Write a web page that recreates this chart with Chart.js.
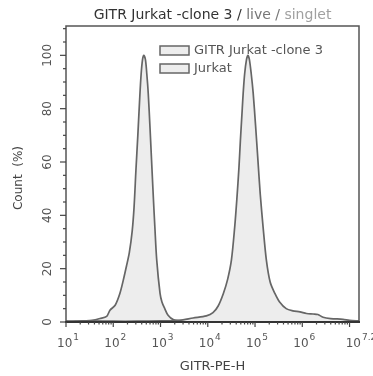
<!DOCTYPE html>
<html>
<head>
<meta charset="utf-8">
<script src="https://cdn.jsdelivr.net/npm/chart.js@4"></script>
<style>
    html, body { margin: 0; padding: 0; background: #fff; }
    #wrap { width: 373px; height: 376px; }
</style>
</head>
<body>
<div id="wrap"><canvas id="chartHist"></canvas></div>
<script>
// x values are log10 of GITR-PE-H, y values are Count (%)
const decadeTicks = [1, 2, 3, 4, 5, 6, 7.2];
const decadeLabels = ['1', '2', '3', '4', '5', '6', '7.2'];
const countTicks = [0, 20, 40, 60, 80, 100];
const seriesNames = ['GITR Jurkat -clone 3', 'Jurkat'];

const cloneLog = [1.0, 1.5, 2.0, 2.5, 3.0, 3.4, 3.69, 3.97, 4.11, 4.22, 4.33, 4.42, 4.50, 4.57, 4.615,
    4.66, 4.69, 4.73, 4.75, 4.78, 4.82, 4.85, 4.88, 4.92, 4.96, 5.01, 5.06, 5.11, 5.17, 5.24,
    5.32, 5.42, 5.52, 5.66, 5.80, 5.95, 6.09, 6.23, 6.33, 6.44, 6.60, 6.86, 7.0, 7.2];
const cloneCount = [0.3, 0.4, 0.3, 0.3, 0.4, 0.6, 1.5, 2.3, 3.5, 6, 10.7, 16, 23.2, 35.7, 46,
    58, 68, 80, 86, 93, 98.5, 100, 98.5, 93, 86, 74, 61, 48, 35.7, 23.2,
    15, 10.7, 7.5, 5, 4.2, 3.8, 3.2, 3.0, 2.8, 1.8, 1.3, 1.0, 0.6, 0.4];

const jurkatLog = [1.0, 1.2, 1.37, 1.55, 1.72, 1.86, 1.93, 2.04, 2.14, 2.21, 2.28, 2.34, 2.40, 2.44, 2.48,
    2.52, 2.56, 2.59, 2.62, 2.645, 2.68, 2.71, 2.74, 2.78, 2.81, 2.85, 2.88, 2.92, 2.99, 3.03,
    3.09, 3.16, 3.27, 3.48, 3.8, 4.2, 5.0, 6.0, 7.2];
const jurkatCount = [0.2, 0.2, 0.4, 0.6, 1.3, 2.1, 4.4, 6.3, 10.7, 15.5, 21, 26, 34, 43, 57,
    70, 84, 93, 98.5, 100, 98.5, 93, 85.8, 72, 60.8, 46, 35.7, 23.2, 10.7, 7.5,
    5, 2.5, 0.9, 0.4, 0.3, 0.2, 0.1, 0.1, 0.1];

function pairs(xs, ys) {
    return xs.map((x, i) => ({ x: x, y: ys[i] }));
}

const FONT = '"DejaVu Sans", "Liberation Sans", sans-serif';

// axes, labels, title and legend drawn from the chart's own scales
const framePlugin = {
    id: 'frame',
    afterDraw(chart) {
        const ctx = chart.ctx;
        const area = chart.chartArea;
        const xs = chart.scales.x;
        const ys = chart.scales.y;
        ctx.save();

        // frame
        ctx.strokeStyle = '#555';
        ctx.lineWidth = 1.5;
        ctx.strokeRect(area.left, area.top, area.right - area.left, area.bottom - area.top);
        ctx.strokeStyle = '#333';
        ctx.lineWidth = 2;
        ctx.beginPath();
        ctx.moveTo(area.left - 1, area.bottom);
        ctx.lineTo(area.right + 1, area.bottom);
        ctx.stroke();

        // x ticks (log decades)
        ctx.strokeStyle = '#444';
        ctx.lineWidth = 1.2;
        for (let n = 1; n <= 7; n++) {
            for (let k = 1; k <= 9; k++) {
                const v = n + Math.log10(k);
                if (v > 7.2) break;
                const px = xs.getPixelForValue(v);
                const len = k === 1 ? 5 : 2.5;
                ctx.beginPath();
                ctx.moveTo(px, area.bottom);
                ctx.lineTo(px, area.bottom + len);
                ctx.stroke();
            }
        }

        // x labels 10^n
        ctx.fillStyle = '#555';
        ctx.textBaseline = 'alphabetic';
        ctx.textAlign = 'left';
        decadeTicks.forEach((v, i) => {
            const px = xs.getPixelForValue(v);
            ctx.font = '12px ' + FONT;
            const w1 = ctx.measureText('10').width;
            ctx.font = '9px ' + FONT;
            const w2 = ctx.measureText(decadeLabels[i]).width;
            const x0 = px + 2 - (w1 + 1 + w2) / 2;
            ctx.font = '12px ' + FONT;
            ctx.fillText('10', x0, 347);
            ctx.font = '9px ' + FONT;
            ctx.fillText(decadeLabels[i], x0 + w1 + 1, 340);
        });

        // y ticks
        for (let v = 0; v <= 110; v += 5) {
            const py = ys.getPixelForValue(v);
            const len = v % 20 === 0 ? 6 : 3;
            ctx.beginPath();
            ctx.moveTo(area.left, py);
            ctx.lineTo(area.left - len, py);
            ctx.stroke();
        }

        // y labels, rotated
        ctx.font = '12px ' + FONT;
        ctx.textAlign = 'center';
        ctx.textBaseline = 'middle';
        countTicks.forEach(v => {
            const py = ys.getPixelForValue(v);
            ctx.save();
            ctx.translate(48, py);
            ctx.rotate(-Math.PI / 2);
            ctx.fillText(String(v), 0, 0);
            ctx.restore();
        });

        // axis titles
        ctx.fillStyle = '#444';
        ctx.save();
        ctx.translate(19, 178);
        ctx.rotate(-Math.PI / 2);
        ctx.fillText('Count  (%)', 0, 0);
        ctx.restore();
        ctx.font = '13px ' + FONT;
        ctx.fillText('GITR-PE-H', (area.left + area.right) / 2, 367);

        // title in shaded parts
        const parts = [
            ['GITR Jurkat -clone 3 / ', '#333'],
            ['live / ', '#777'],
            ['singlet', '#a0a0a0']
        ];
        ctx.font = '14px ' + FONT;
        ctx.textAlign = 'left';
        let total = 0;
        parts.forEach(p => { total += ctx.measureText(p[0]).width; });
        let tx = (area.left + area.right) / 2 - total / 2;
        parts.forEach(p => {
            ctx.fillStyle = p[1];
            ctx.fillText(p[0], tx, 15);
            tx += ctx.measureText(p[0]).width;
        });

        // legend
        ctx.font = '13px ' + FONT;
        chart.data.datasets.forEach((ds, i) => {
            const by = 46 + i * 18;
            ctx.fillStyle = ds.backgroundColor;
            ctx.fillRect(160, by, 29, 9);
            ctx.strokeStyle = ds.borderColor;
            ctx.lineWidth = 1.5;
            ctx.strokeRect(160, by, 29, 9);
            ctx.fillStyle = '#555';
            ctx.fillText(ds.label, 194, by + 5);
        });

        ctx.restore();
    }
};

new Chart(document.getElementById('chartHist').getContext('2d'), {
    type: 'line',
    data: {
        datasets: [{
            label: seriesNames[0],
            data: pairs(cloneLog, cloneCount),
            borderColor: '#666',
            backgroundColor: '#ededed',
            borderWidth: 1.7,
            pointRadius: 0,
            tension: 0.3,
            fill: 'origin'
        }, {
            label: seriesNames[1],
            data: pairs(jurkatLog, jurkatCount),
            borderColor: '#666',
            backgroundColor: '#ededed',
            borderWidth: 1.7,
            pointRadius: 0,
            tension: 0.3,
            fill: 'origin'
        }]
    },
    options: {
        responsive: true,
        maintainAspectRatio: false,
        animation: false,
        layout: { padding: { left: 66, right: 14, top: 26, bottom: 54 } },
        plugins: {
            legend: { display: false },
            tooltip: { enabled: false }
        },
        scales: {
            x: { type: 'linear', min: 1, max: 7.2, display: false },
            y: { type: 'linear', min: 0, max: 111, display: false }
        }
    },
    plugins: [framePlugin]
});
</script>
</body>
</html>
